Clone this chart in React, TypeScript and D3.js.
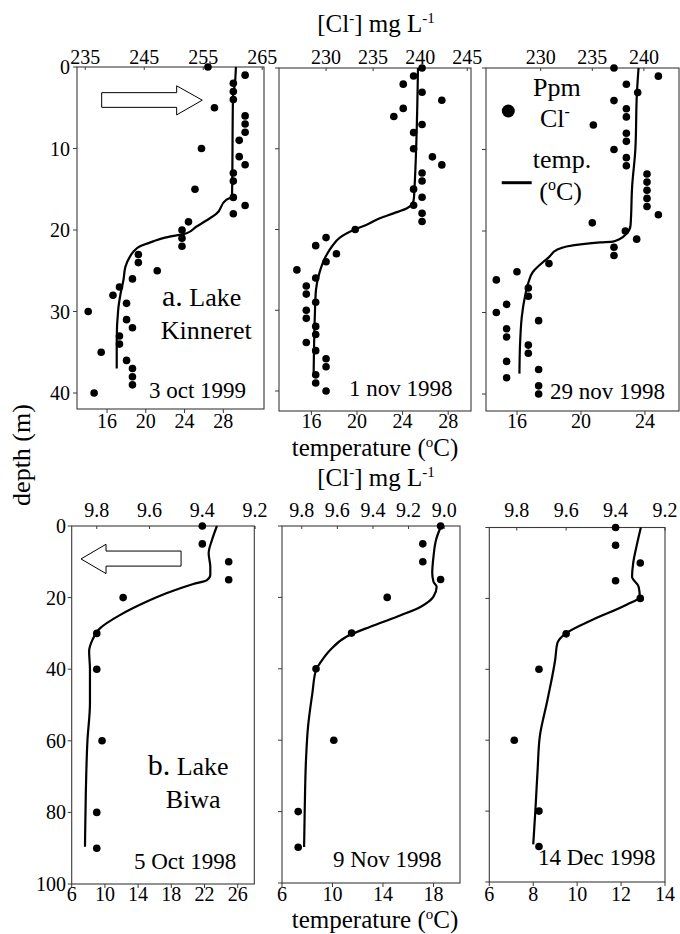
import React from 'react';
import * as d3 from 'd3';

const FONT = '"Liberation Serif", "Times New Roman", Times, serif';

// ---------- Lake Kinneret (depth m, Cl mg/L) ----------
const kinDepthA = [0,1,2,3,4,5,6,7,8,9,10,11,12,13,14,15,16,17,18,19,20,21,22,23,24,25,26,27,28,29,30,31,32,33,34,35,36,37,38,39,40];
const kinClA = [255.8,262.1,260.1,260.1,260.1,256.9,262.1,262.1,262.1,261.1,254.7,261.1,262.1,260.1,260.1,253.6,260.1,262.1,260.1,252.5,251.4,251.4,251.4,244.0,244.0,247.2,243.0,240.8,239.7,242.0,235.5,242.0,243.0,240.8,240.8,237.7,242.0,243.0,243.0,243.0,236.5];
const kinTempDepthA = [0,2,3.7,15.9,16.3,18,18.8,19.6,20.4,20.9,21.4,22,22.7,23.3,24.5,26.1,27.8,29.8,33.5,37];
const kinTempA = [29.3,29.2,29.0,28.9,28.3,27.3,26.3,25.2,24.2,22.1,20.75,19.4,18.7,18.35,17.9,17.7,17.4,17.15,17.0,17.0];

const kinDepthB = [0,1,2,3,4,5,6,7,8,10,11,12,13,14,15,16,17,18,19,20,21,22,23,24,25,26,27,28,29,30,31,32,33,34,35,36,37,38,39,40];
const kinClB = [240.2,239.3,238.2,240.2,242.3,238.2,237.2,240.2,239.3,239.3,241.3,242.3,240.2,240.2,239.3,240.2,239.3,240.2,240.2,233.1,230.0,228.9,231.1,230.0,226.9,228.9,227.9,227.9,228.9,227.9,227.9,228.9,228.9,227.9,228.9,230.0,230.0,228.9,228.9,230.0];
const kinTempDepthB = [0,16,16.7,17.4,18,18.6,19.4,20,21,22.1,23.5,25.4,27.5,30.8,37.8];
const kinTempB = [25.35,25.0,24.9,24.35,23.2,22.0,20.85,19.8,18.5,17.8,17.2,16.7,16.4,16.3,16.2];

const kinDepthC = [0,1,2,3,4,5,6,7,8,9,10,11,12,13,14,15,16,17,18,19,20,21,22,23,24,25,26,27,28,29,30,31,32,33,34,35,36,37,38,39,40];
const kinClC = [237.1,241.4,238.3,239.4,237.1,238.3,238.3,235.1,238.3,238.3,237.1,238.3,238.3,240.3,240.3,240.3,240.3,240.3,241.4,235.0,238.2,239.3,237.1,237.1,230.8,227.7,225.7,228.8,228.8,226.7,225.7,229.8,226.7,226.7,228.8,228.8,226.7,229.8,226.7,229.8,229.8];
const kinTempDepthC = [0,3,10,14.5,19.3,20.3,21.0,21.3,21.4,21.6,21.9,22.3,23.2,24.2,25.0,26.4,28.0,30.5,33.4,37.5];
const kinTempC = [23.6,23.5,23.4,23.2,23.1,22.86,22.4,22.0,21.2,20.1,19.1,18.5,18.0,17.4,17.0,16.7,16.5,16.3,16.2,16.15];

// ---------- Lake Biwa ----------
const biwaDepth = [0,5,10,15,20,30,40,60,80,90];
const biwaClA = [9.4,9.4,9.3,9.3,9.7,9.8,9.8,9.78,9.8,9.8];
const biwaClB = [9.02,9.12,9.12,9.02,9.32,9.52,9.72,9.62,9.82,9.82];
const biwaClC = [9.4,9.4,9.3,9.4,9.3,9.6,9.71,9.81,9.71,9.71];
const biwaTempDepthA = [0,3.9,7.6,11.4,13.7,15.1,16.2,18.8,21.6,24.9,28.6,31.8,35,40,49.5,59.8,74.7,89.6];
const biwaTempA = [23.5,22.9,22.5,22.7,22.7,22.3,20.65,17.4,14.6,11.8,9.4,8.5,8.1,8.2,8.2,7.9,7.7,7.6];
const biwaTempDepthB = [0,3.9,8.6,13.2,15.6,17,19.8,22.6,25.4,28.2,31,34.8,38.5,40.2,47,56.3,65.6,79.6,89.9];
const biwaTempB = [18.6,18.2,18.0,17.9,18.0,18.25,18.0,17.0,15.1,13.0,11.1,9.8,9.0,8.7,8.4,8.06,7.9,7.8,7.75];
const biwaTempDepthC = [0,5.4,10.1,13.9,16.7,19.5,21.8,26,29.8,32.6,37.3,48.6,58.9,68.3,79.6,89.4];
const biwaTempC = [12.9,12.7,12.55,12.5,12.8,12.85,12.25,10.7,9.5,9.1,9.0,8.65,8.3,8.2,8.1,8.0];

// ---------- tick labels ----------
const clTicksA = [235,245,255,265];
const clTicksB = [230,235,240,245];
const clTicksC = [230,235,240];
const tTicksTop = [16,20,24,28];
const tTicksTopC = [16,20,24];
const depthTicksTop = [0,10,20,30,40];
const clTicksBiwaA = [9.8,9.6,9.4,9.2];
const clTicksBiwaB = [9.8,9.6,9.4,9.2,9.0];
const clTicksBiwaC = [9.8,9.6,9.4,9.2];
const tTicksBiwaA = [6,10,14,18,22,26];
const tTicksBiwaB = [6,10,14,18];
const tTicksBiwaC = [6,8,10,12,14];
const depthTicksBiwa = [0,20,40,60,80,100];

type Panel = {
  x0: number; x1: number; y0: number; y1: number;
  tDom: [number, number]; cDom: [number, number];
  dDom: [number, number]; dRange: [number, number];
  clTicks: number[]; clFmt: (v: number) => string;
  tTicks: number[]; depthTicks: number[]; depthLabels: boolean;
  clDepth: number[]; cl: number[]; tDepth: number[]; temp: number[];
  clLabelY: number; tLabelY: number; depthLabelX: number;
};

const f0 = (v: number) => String(v);
const f1 = (v: number) => v.toFixed(1);

const panels: Panel[] = [
  { x0: 77, x1: 264, y0: 67, y1: 409, tDom: [12.9, 32.2], cDom: [233.6, 265.3], dDom: [0, 40], dRange: [67, 393],
    clTicks: clTicksA, clFmt: f0, tTicks: tTicksTop, depthTicks: depthTicksTop, depthLabels: true,
    clDepth: kinDepthA, cl: kinClA, tDepth: kinTempDepthA, temp: kinTempA, clLabelY: 64, tLabelY: 428, depthLabelX: 70 },
  { x0: 279, x1: 471, y0: 68, y1: 411, tDom: [13.16, 30.0], cDom: [225.0, 245.4], dDom: [0, 40], dRange: [68, 391],
    clTicks: clTicksB, clFmt: f0, tTicks: tTicksTop, depthTicks: depthTicksTop, depthLabels: false,
    clDepth: kinDepthB, cl: kinClB, tDepth: kinTempDepthB, temp: kinTempB, clLabelY: 64, tLabelY: 428, depthLabelX: 0 },
  { x0: 486, x1: 679, y0: 68, y1: 411, tDom: [14.06, 26.13], cDom: [224.7, 243.4], dDom: [0, 40], dRange: [68, 394],
    clTicks: clTicksC, clFmt: f0, tTicks: tTicksTopC, depthTicks: depthTicksTop, depthLabels: false,
    clDepth: kinDepthC, cl: kinClC, tDepth: kinTempDepthC, temp: kinTempC, clLabelY: 64, tLabelY: 428, depthLabelX: 0 },
  { x0: 71.7, x1: 254.3, y0: 526, y1: 884, tDom: [6, 28], cDom: [9.895, 9.203], dDom: [0, 100], dRange: [526, 884],
    clTicks: clTicksBiwaA, clFmt: f1, tTicks: tTicksBiwaA, depthTicks: depthTicksBiwa, depthLabels: true,
    clDepth: biwaDepth, cl: biwaClA, tDepth: biwaTempDepthA, temp: biwaTempA, clLabelY: 517, tLabelY: 901, depthLabelX: 66 },
  { x0: 282, x1: 460, y0: 526, y1: 883, tDom: [6, 20.1], cDom: [9.911, 8.911], dDom: [0, 100], dRange: [526, 883],
    clTicks: clTicksBiwaB, clFmt: f1, tTicks: tTicksBiwaB, depthTicks: depthTicksBiwa, depthLabels: false,
    clDepth: biwaDepth, cl: biwaClB, tDepth: biwaTempDepthB, temp: biwaTempB, clLabelY: 517, tLabelY: 901, depthLabelX: 0 },
  { x0: 489.3, x1: 665, y0: 527.5, y1: 882, tDom: [6, 14], cDom: [9.911, 9.2], dDom: [0, 100], dRange: [527.5, 882],
    clTicks: clTicksBiwaC, clFmt: f1, tTicks: tTicksBiwaC, depthTicks: depthTicksBiwa, depthLabels: false,
    clDepth: biwaDepth, cl: biwaClC, tDepth: biwaTempDepthC, temp: biwaTempC, clLabelY: 517, tLabelY: 901, depthLabelX: 0 },
];

const FRAME = '#3a3a3a';

function PanelView({ p }: { p: Panel }) {
  const tx = d3.scaleLinear().domain(p.tDom).range([p.x0, p.x1]);
  const cx = d3.scaleLinear().domain(p.cDom).range([p.x0, p.x1]);
  const dy = d3.scaleLinear().domain(p.dDom).range(p.dRange);
  const line = d3.line<[number, number]>()
    .x(d => tx(d[1]))
    .y(d => dy(d[0]))
    .curve(d3.curveMonotoneY);
  const pts: [number, number][] = p.tDepth.map((d, i) => [d, p.temp[i]]);
  return (
    <g>
      <rect x={p.x0} y={p.y0} width={p.x1 - p.x0} height={p.y1 - p.y0} fill="none" stroke={FRAME} strokeWidth={1.1} />
      {p.clTicks.map(v => (
        <g key={'c' + v}>
          <line x1={cx(v)} x2={cx(v)} y1={p.y0} y2={p.y0 + 3} stroke={FRAME} strokeWidth={1} />
          <text x={cx(v)} y={p.clLabelY} textAnchor="middle" fontSize={20} fontFamily={FONT}>{p.clFmt(v)}</text>
        </g>
      ))}
      {p.tTicks.map(v => (
        <g key={'t' + v}>
          <line x1={tx(v)} x2={tx(v)} y1={p.y1} y2={p.y1 + 4} stroke={FRAME} strokeWidth={1} />
          <text x={tx(v)} y={p.tLabelY} textAnchor="middle" fontSize={20} fontFamily={FONT}>{v}</text>
        </g>
      ))}
      {p.depthTicks.map(v => (
        <g key={'d' + v}>
          <line x1={p.x0 - 4} x2={p.x0} y1={dy(v)} y2={dy(v)} stroke={FRAME} strokeWidth={1} />
          {p.depthLabels && (
            <text x={p.depthLabelX} y={dy(v)} dy="0.35em" textAnchor="end" fontSize={20} fontFamily={FONT}>{v}</text>
          )}
        </g>
      ))}
      <path d={line(pts) || ''} fill="none" stroke="#000" strokeWidth={2.2} />
      {p.clDepth.map((d, i) => (
        <circle key={'p' + i} cx={cx(p.cl[i])} cy={dy(d)} r={3.8} fill="#000" />
      ))}
    </g>
  );
}

function ClTitle({ x, y }: { x: number; y: number }) {
  return (
    <text x={x} y={y} textAnchor="middle" fontSize={25} fontFamily={FONT}>
      [Cl<tspan dy={-9} fontSize={15}>-</tspan><tspan dy={9}>] mg L</tspan>
      <tspan dy={-9} fontSize={15}>-1</tspan>
    </text>
  );
}

function TempTitle({ x, y }: { x: number; y: number }) {
  return (
    <text x={x} y={y} textAnchor="middle" fontSize={25} fontFamily={FONT}>
      temperature (<tspan dy={-9} fontSize={15}>o</tspan><tspan dy={9}>C)</tspan>
    </text>
  );
}

export default function App() {
  const pA = panels[0];
  const pD = panels[3];
  // arrows positioned relative to panel frames
  const a1x = (f: number) => pA.x0 + f * (pA.x1 - pA.x0);
  const a1y = (f: number) => pA.y0 + f * (pA.y1 - pA.y0);
  const arrowRight = [
    [a1x(0.132), a1y(0.075)], [a1x(0.533), a1y(0.075)], [a1x(0.533), a1y(0.055)],
    [a1x(0.670), a1y(0.097)], [a1x(0.533), a1y(0.140)], [a1x(0.533), a1y(0.118)],
    [a1x(0.132), a1y(0.118)],
  ];
  const a4x = (f: number) => pD.x0 + f * (pD.x1 - pD.x0);
  const a4y = (f: number) => pD.y0 + f * (pD.y1 - pD.y0);
  const arrowLeft = [
    [a4x(0.599), a4y(0.070)], [a4x(0.188), a4y(0.070)], [a4x(0.188), a4y(0.051)],
    [a4x(0.051), a4y(0.092)], [a4x(0.188), a4y(0.133)], [a4x(0.188), a4y(0.112)],
    [a4x(0.599), a4y(0.112)],
  ];
  const poly = (pts: number[][]) => pts.map(q => q.join(',')).join(' ');

  return (
    <svg width={680} height={934} style={{ position: 'absolute', left: 0, top: 0, background: '#fff' }}
      fontFamily={FONT}>
      <rect x={0} y={0} width={680} height={934} fill="#fff" />
      {panels.map((p, i) => <PanelView key={i} p={p} />)}

      <ClTitle x={376} y={32} />
      <TempTitle x={375} y={456} />
      <ClTitle x={376} y={486} />
      <TempTitle x={375} y={928} />

      <text transform="translate(30,455) rotate(-90)" textAnchor="middle" fontSize={26} fontFamily={FONT}>depth (m)</text>

      <polygon points={poly(arrowRight)} fill="#fff" stroke="#000" strokeWidth={1} />
      <polygon points={poly(arrowLeft)} fill="#fff" stroke="#000" strokeWidth={1} />

      {/* panel annotations */}
      <text x={162} y={306} fontFamily={FONT}><tspan fontSize={30}>a.</tspan><tspan fontSize={26}> Lake</tspan></text>
      <text x={160.7} y={339} fontSize={26} fontFamily={FONT}>Kinneret</text>
      <text x={149} y={398} fontSize={23} fontFamily={FONT}>3 oct 1999</text>
      <text x={349} y={396} fontSize={23} fontFamily={FONT}>1 nov 1998</text>
      <text x={550} y={399} fontSize={23} fontFamily={FONT}>29 nov 1998</text>

      <text x={147.7} y={775} fontFamily={FONT}><tspan fontSize={30}>b.</tspan><tspan fontSize={26}> Lake</tspan></text>
      <text x={165.7} y={808} fontSize={26} fontFamily={FONT}>Biwa</text>
      <text x={134} y={869} fontSize={23} fontFamily={FONT}>5 Oct 1998</text>
      <text x={333} y={867} fontSize={23} fontFamily={FONT}>9 Nov 1998</text>
      <text x={538} y={865} fontSize={23} fontFamily={FONT}>14 Dec 1998</text>

      {/* legend */}
      <circle cx={508.3} cy={111} r={6.5} fill="#000" />
      <text x={533} y={96} fontSize={26} fontFamily={FONT}>Ppm</text>
      <text x={540} y={127} fontSize={26} fontFamily={FONT}>Cl<tspan dy={-10} fontSize={16}>-</tspan></text>
      <line x1={501.7} x2={531.7} y1={182.7} y2={182.7} stroke="#000" strokeWidth={3} />
      <text x={532.7} y={168} fontSize={26} fontFamily={FONT}>temp.</text>
      <text x={539.3} y={200} fontSize={26} fontFamily={FONT}>(<tspan dy={-10} fontSize={16}>o</tspan><tspan dy={10}>C)</tspan></text>
    </svg>
  );
}
